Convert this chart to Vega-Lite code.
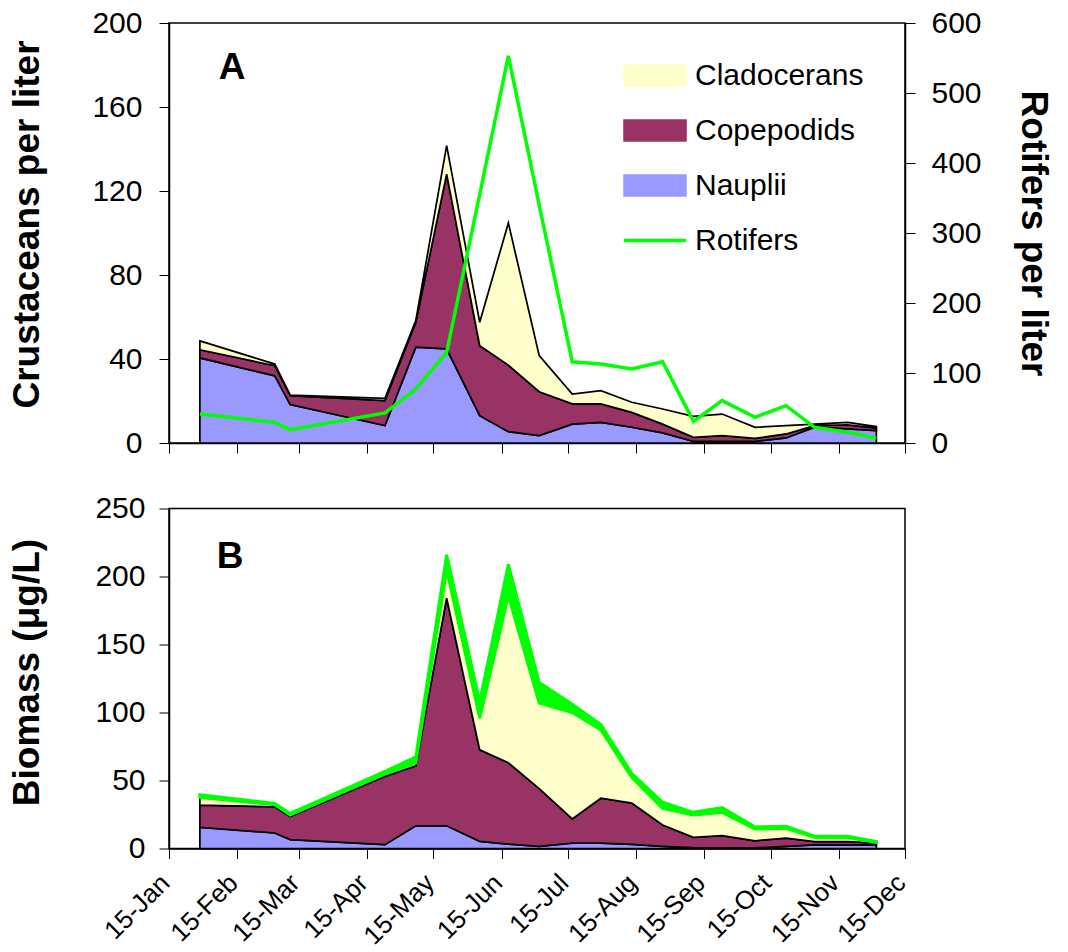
{
  "$schema": "https://vega.github.io/schema/vega-lite/v6.json",
  "background": "white",
  "padding": {"left": 7, "top": 7, "right": 5, "bottom": 2},
  "bounds": "flush",
  "spacing": 65.5,
  "config": {
    "font": "Liberation Sans",
    "view": {"stroke": "black", "strokeWidth": 1.5},
    "axis": {"grid": false, "domainColor": "black", "domainWidth": 1.5, "tickColor": "black", "tickWidth": 1, "tickSize": 10, "labelColor": "black", "titleColor": "black", "labelFont": "Liberation Sans", "titleFont": "Liberation Sans"}
  },
  "datasets": {
    "plankton": [
      {"date": "2003-01-29T00:00", "group": "Nauplii", "density": 40.5, "biomass": 15.6},
      {"date": "2003-03-04T00:00", "group": "Nauplii", "density": 32, "biomass": 11.4},
      {"date": "2003-03-11T00:00", "group": "Nauplii", "density": 18.3, "biomass": 6.5},
      {"date": "2003-04-23T00:00", "group": "Nauplii", "density": 8.3, "biomass": 2.8},
      {"date": "2003-05-07T00:00", "group": "Nauplii", "density": 45.6, "biomass": 16.7},
      {"date": "2003-05-21T00:00", "group": "Nauplii", "density": 44.8, "biomass": 16.7},
      {"date": "2003-06-05T00:00", "group": "Nauplii", "density": 13, "biomass": 5.3},
      {"date": "2003-06-18T00:00", "group": "Nauplii", "density": 5.4, "biomass": 3.3},
      {"date": "2003-07-02T00:00", "group": "Nauplii", "density": 3.5, "biomass": 1.6},
      {"date": "2003-07-17T00:00", "group": "Nauplii", "density": 9, "biomass": 4},
      {"date": "2003-07-30T00:00", "group": "Nauplii", "density": 9.8, "biomass": 4},
      {"date": "2003-08-13T00:00", "group": "Nauplii", "density": 7.5, "biomass": 3},
      {"date": "2003-08-27T00:00", "group": "Nauplii", "density": 4.8, "biomass": 1.6},
      {"date": "2003-09-10T00:00", "group": "Nauplii", "density": 0.8, "biomass": 0.6},
      {"date": "2003-09-23T00:00", "group": "Nauplii", "density": 0.8, "biomass": 0.5},
      {"date": "2003-10-08T00:00", "group": "Nauplii", "density": 0.8, "biomass": 0.5},
      {"date": "2003-10-22T00:00", "group": "Nauplii", "density": 2.4, "biomass": 1.5},
      {"date": "2003-11-04T00:00", "group": "Nauplii", "density": 7.5, "biomass": 2.7},
      {"date": "2003-11-19T00:00", "group": "Nauplii", "density": 6.7, "biomass": 2.7},
      {"date": "2003-12-02T00:00", "group": "Nauplii", "density": 5.9, "biomass": 2.7},
      {"date": "2003-01-29T00:00", "group": "Copepodids", "density": 3.9, "biomass": 16.3},
      {"date": "2003-03-04T00:00", "group": "Copepodids", "density": 4.8, "biomass": 19.3},
      {"date": "2003-03-11T00:00", "group": "Copepodids", "density": 4.2, "biomass": 17.1},
      {"date": "2003-04-23T00:00", "group": "Copepodids", "density": 11.9, "biomass": 50.2},
      {"date": "2003-05-07T00:00", "group": "Copepodids", "density": 11.9, "biomass": 44.1},
      {"date": "2003-05-21T00:00", "group": "Copepodids", "density": 83.2, "biomass": 167.3},
      {"date": "2003-06-05T00:00", "group": "Copepodids", "density": 33.3, "biomass": 67.2},
      {"date": "2003-06-18T00:00", "group": "Copepodids", "density": 31.7, "biomass": 59.7},
      {"date": "2003-07-02T00:00", "group": "Copepodids", "density": 20.9, "biomass": 42.4},
      {"date": "2003-07-17T00:00", "group": "Copepodids", "density": 9.6, "biomass": 17.7},
      {"date": "2003-07-30T00:00", "group": "Copepodids", "density": 8.8, "biomass": 33},
      {"date": "2003-08-13T00:00", "group": "Copepodids", "density": 7.1, "biomass": 30.4},
      {"date": "2003-08-27T00:00", "group": "Copepodids", "density": 4.2, "biomass": 15.7},
      {"date": "2003-09-10T00:00", "group": "Copepodids", "density": 1.9, "biomass": 7.6},
      {"date": "2003-09-23T00:00", "group": "Copepodids", "density": 2.7, "biomass": 8.9},
      {"date": "2003-10-08T00:00", "group": "Copepodids", "density": 1.4, "biomass": 5.2},
      {"date": "2003-10-22T00:00", "group": "Copepodids", "density": 1.9, "biomass": 6.2},
      {"date": "2003-11-04T00:00", "group": "Copepodids", "density": 0.8, "biomass": 2.3},
      {"date": "2003-11-19T00:00", "group": "Copepodids", "density": 1.9, "biomass": 2.3},
      {"date": "2003-12-02T00:00", "group": "Copepodids", "density": 1.2, "biomass": 1.3},
      {"date": "2003-01-29T00:00", "group": "Cladocerans", "density": 4.2, "biomass": 5.7},
      {"date": "2003-03-04T00:00", "group": "Cladocerans", "density": 0.8, "biomass": 1.5},
      {"date": "2003-03-11T00:00", "group": "Cladocerans", "density": 0.3, "biomass": 1.0},
      {"date": "2003-04-23T00:00", "group": "Cladocerans", "density": 1.1, "biomass": 1.7},
      {"date": "2003-05-07T00:00", "group": "Cladocerans", "density": 0.8, "biomass": 2.0},
      {"date": "2003-05-21T00:00", "group": "Cladocerans", "density": 13.6, "biomass": 21},
      {"date": "2003-06-05T00:00", "group": "Cladocerans", "density": 11.2, "biomass": 23.5},
      {"date": "2003-06-18T00:00", "group": "Cladocerans", "density": 67.7, "biomass": 123},
      {"date": "2003-07-02T00:00", "group": "Cladocerans", "density": 17.2, "biomass": 63},
      {"date": "2003-07-17T00:00", "group": "Cladocerans", "density": 4.7, "biomass": 78.3},
      {"date": "2003-07-30T00:00", "group": "Cladocerans", "density": 6.3, "biomass": 50.2},
      {"date": "2003-08-13T00:00", "group": "Cladocerans", "density": 4.8, "biomass": 18.9},
      {"date": "2003-08-27T00:00", "group": "Cladocerans", "density": 7.2, "biomass": 12.2},
      {"date": "2003-09-10T00:00", "group": "Cladocerans", "density": 10, "biomass": 16.4},
      {"date": "2003-09-23T00:00", "group": "Cladocerans", "density": 10.3, "biomass": 17.2},
      {"date": "2003-10-08T00:00", "group": "Cladocerans", "density": 5.3, "biomass": 8.6},
      {"date": "2003-10-22T00:00", "group": "Cladocerans", "density": 4, "biomass": 7.1},
      {"date": "2003-11-04T00:00", "group": "Cladocerans", "density": 0.7, "biomass": 3.2},
      {"date": "2003-11-19T00:00", "group": "Cladocerans", "density": 1.2, "biomass": 3},
      {"date": "2003-12-02T00:00", "group": "Cladocerans", "density": 0.7, "biomass": 0.5},
      {"date": "2003-01-29T00:00", "group": "Rotifers", "density": 41.4, "biomass": 2},
      {"date": "2003-03-04T00:00", "group": "Rotifers", "density": 29.5, "biomass": 1},
      {"date": "2003-03-11T00:00", "group": "Rotifers", "density": 19, "biomass": 1.2},
      {"date": "2003-04-23T00:00", "group": "Rotifers", "density": 42.9, "biomass": 2},
      {"date": "2003-05-07T00:00", "group": "Rotifers", "density": 77, "biomass": 4.5},
      {"date": "2003-05-21T00:00", "group": "Rotifers", "density": 129.5, "biomass": 11},
      {"date": "2003-06-05T00:00", "group": "Rotifers", "density": 355, "biomass": 12},
      {"date": "2003-06-18T00:00", "group": "Rotifers", "density": 553, "biomass": 23},
      {"date": "2003-07-02T00:00", "group": "Rotifers", "density": 340, "biomass": 15},
      {"date": "2003-07-17T00:00", "group": "Rotifers", "density": 116, "biomass": 6},
      {"date": "2003-07-30T00:00", "group": "Rotifers", "density": 112.9, "biomass": 4},
      {"date": "2003-08-13T00:00", "group": "Rotifers", "density": 105.7, "biomass": 3},
      {"date": "2003-08-27T00:00", "group": "Rotifers", "density": 116, "biomass": 4.5},
      {"date": "2003-09-10T00:00", "group": "Rotifers", "density": 31, "biomass": 2},
      {"date": "2003-09-23T00:00", "group": "Rotifers", "density": 60.5, "biomass": 3.5},
      {"date": "2003-10-08T00:00", "group": "Rotifers", "density": 36.7, "biomass": 1.5},
      {"date": "2003-10-22T00:00", "group": "Rotifers", "density": 53.3, "biomass": 1.5},
      {"date": "2003-11-04T00:00", "group": "Rotifers", "density": 22.4, "biomass": 0.8},
      {"date": "2003-11-19T00:00", "group": "Rotifers", "density": 15.3, "biomass": 1},
      {"date": "2003-12-02T00:00", "group": "Rotifers", "density": 6.7, "biomass": 0.6}
    ]
  },
  "resolve": {"scale": {"color": "independent"}, "legend": {"color": "independent"}},
  "vconcat": [
    {
      "width": 736,
      "height": 420,
      "layer": [
        {
          "layer": [
            {
              "data": {"name": "plankton"},
              "transform": [
                {"filter": "datum.group !== 'Rotifers'"},
                {"calculate": "indexof(['Nauplii','Copepodids','Cladocerans','Rotifers'], datum.group)", "as": "rank"}
              ],
              "mark": {"type": "area", "stroke": "black", "strokeWidth": 1.75, "opacity": 1, "fillOpacity": 1},
              "encoding": {
                "x": {
                  "field": "date", "type": "temporal",
                  "scale": {"domain": [{"year": 2003, "month": 1, "date": 15}, {"year": 2003, "month": 12, "date": 15}]},
                  "axis": {
                    "values": [
                      {"year": 2003, "month": 1, "date": 15}, {"year": 2003, "month": 2, "date": 15},
                      {"year": 2003, "month": 3, "date": 15}, {"year": 2003, "month": 4, "date": 15},
                      {"year": 2003, "month": 5, "date": 15}, {"year": 2003, "month": 6, "date": 15},
                      {"year": 2003, "month": 7, "date": 15}, {"year": 2003, "month": 8, "date": 15},
                      {"year": 2003, "month": 9, "date": 15}, {"year": 2003, "month": 10, "date": 15},
                      {"year": 2003, "month": 11, "date": 15}, {"year": 2003, "month": 12, "date": 15}
                    ],
                    "labels": false, "title": null
                  }
                },
                "y": {
                  "field": "density", "type": "quantitative", "stack": "zero",
                  "scale": {"domain": [0, 200], "nice": false},
                  "axis": {
                    "values": [0, 40, 80, 120, 160, 200],
                    "labelFontSize": 30, "labelPadding": 17,
                    "title": "Crustaceans per liter", "titleFontSize": 37, "titleFontWeight": "bold",
                    "titleAngle": 270, "titleBaseline": "bottom", "titleAlign": "center",
                    "titleX": -122.5, "titleY": 201
                  }
                },
                "color": {
                  "field": "group", "type": "nominal",
                  "scale": {"domain": ["Cladocerans", "Copepodids", "Nauplii", "Rotifers"], "range": ["#FFFFCC", "#993366", "#9999FF", "#00FF00"]},
                  "legend": {
                    "orient": "none", "legendX": 471, "legendY": 37.5, "title": null, "padding": 0,
                    "symbolSize": 900, "symbolType": "M-2.067,-0.7H2.067V0.7H-2.067Z",
                    "symbolStrokeColor": "black", "symbolStrokeWidth": 1.5, "symbolOpacity": 1,
                    "labelFontSize": 30, "labelFont": "Liberation Sans", "labelColor": "black",
                    "labelOffset": 25, "rowPadding": 25, "labelLimit": 400,
                    "encode": {
                      "symbols": {
                        "update": {
                          "shape": {"signal": "datum.value === 'Rotifers' ? 'M-2.067,0H2.067' : 'M-2.067,-0.7H2.067V0.7H-2.067Z'"},
                          "fill": {"signal": "datum.value === 'Cladocerans' ? '#FFFFCC' : datum.value === 'Copepodids' ? '#993366' : datum.value === 'Nauplii' ? '#9999FF' : 'transparent'"},
                          "stroke": {"signal": "datum.value === 'Rotifers' ? '#00FF00' : 'black'"},
                          "strokeWidth": {"signal": "datum.value === 'Rotifers' ? 3.5 : 1.5"},
                          "opacity": {"value": 1},
                          "fillOpacity": {"value": 1}
                        }
                      }
                    }
                  }
                },
                "order": {"field": "rank", "type": "quantitative"}
              }
            },
            {
              "data": {"values": [{"panel": "A"}]},
              "mark": {"type": "text", "fontSize": 37, "fontWeight": "bold", "align": "center", "baseline": "middle", "color": "black", "font": "Liberation Sans"},
              "encoding": {
                "text": {"field": "panel"},
                "x": {"datum": {"year": 2003, "month": 2, "date": 12, "hours": 14}, "type": "temporal"},
                "y": {"datum": 178.8, "type": "quantitative"}
              }
            }
          ]
        },
        {
          "data": {"name": "plankton"},
          "transform": [{"filter": "datum.group === 'Rotifers'"}],
          "mark": {"type": "line", "strokeWidth": 3.5, "strokeJoin": "miter"},
          "encoding": {
            "x": {"field": "date", "type": "temporal"},
            "y": {
              "field": "density", "type": "quantitative",
              "scale": {"domain": [0, 600], "nice": false},
              "axis": {
                "orient": "right",
                "values": [0, 100, 200, 300, 400, 500, 600],
                "labelFontSize": 30, "labelPadding": 16,
                "title": "Rotifers per liter", "titleFontSize": 37, "titleFontWeight": "bold",
                "titleAngle": 90, "titleBaseline": "bottom", "titleAlign": "center",
                "titleX": 108.7, "titleY": 210
              }
            },
            "color": {
              "field": "group", "type": "nominal",
              "legend": {
                "orient": "none", "legendX": 471, "legendY": 37.5, "title": null, "padding": 0,
                "symbolSize": 900, "symbolType": "M-2.067,-0.7H2.067V0.7H-2.067Z",
                "symbolStrokeColor": "black", "symbolStrokeWidth": 1.5, "symbolOpacity": 1,
                "labelFontSize": 30, "labelFont": "Liberation Sans", "labelColor": "black",
                "labelOffset": 25, "rowPadding": 25, "labelLimit": 400,
                "encode": {
                  "symbols": {
                    "update": {
                      "shape": {"signal": "datum.value === 'Rotifers' ? 'M-2.067,0H2.067' : 'M-2.067,-0.7H2.067V0.7H-2.067Z'"},
                      "fill": {"signal": "datum.value === 'Cladocerans' ? '#FFFFCC' : datum.value === 'Copepodids' ? '#993366' : datum.value === 'Nauplii' ? '#9999FF' : 'transparent'"},
                      "stroke": {"signal": "datum.value === 'Rotifers' ? '#00FF00' : 'black'"},
                      "strokeWidth": {"signal": "datum.value === 'Rotifers' ? 3.5 : 1.5"},
                      "opacity": {"value": 1},
                      "fillOpacity": {"value": 1}
                    }
                  }
                }
              }
            }
          }
        }
      ],
      "resolve": {"scale": {"y": "independent"}}
    },
    {
      "width": 736,
      "height": 340,
      "layer": [
        {
          "data": {"name": "plankton"},
          "transform": [
            {"calculate": "indexof(['Nauplii','Copepodids','Cladocerans','Rotifers'], datum.group)", "as": "rank"}
          ],
          "mark": {"type": "area", "opacity": 1, "fillOpacity": 1},
          "encoding": {
            "x": {
              "field": "date", "type": "temporal",
              "scale": {"domain": [{"year": 2003, "month": 1, "date": 15}, {"year": 2003, "month": 12, "date": 15}]},
              "axis": {
                "values": [
                  {"year": 2003, "month": 1, "date": 15}, {"year": 2003, "month": 2, "date": 15},
                  {"year": 2003, "month": 3, "date": 15}, {"year": 2003, "month": 4, "date": 15},
                  {"year": 2003, "month": 5, "date": 15}, {"year": 2003, "month": 6, "date": 15},
                  {"year": 2003, "month": 7, "date": 15}, {"year": 2003, "month": 8, "date": 15},
                  {"year": 2003, "month": 9, "date": 15}, {"year": 2003, "month": 10, "date": 15},
                  {"year": 2003, "month": 11, "date": 15}, {"year": 2003, "month": 12, "date": 15}
                ],
                "format": "%d-%b", "labelAngle": -45, "labelAlign": "right", "labelBaseline": "middle",
                "labelFontSize": 26, "labelPadding": 20, "labelOffset": -4, "labelOverlap": false, "labelFlush": false,
                "labelBound": false, "title": null
              }
            },
            "y": {
              "field": "biomass", "type": "quantitative", "stack": "zero",
              "scale": {"domain": [0, 250], "nice": false},
              "axis": {
                "values": [0, 50, 100, 150, 200, 250],
                "labelFontSize": 30, "labelPadding": 14,
                "title": "Biomass (μg/L)", "titleFontSize": 37, "titleFontWeight": "bold",
                "titleAngle": 270, "titleBaseline": "bottom", "titleAlign": "center",
                "titleX": -123, "titleY": 163.5
              }
            },
            "color": {
              "field": "group", "type": "nominal",
              "scale": {"domain": ["Cladocerans", "Copepodids", "Nauplii", "Rotifers"], "range": ["#FFFFCC", "#993366", "#9999FF", "#00FF00"]},
              "legend": null
            },
            "stroke": {"condition": {"test": "datum.group === 'Rotifers'", "value": "#00FF00"}, "value": "black"},
            "strokeWidth": {"condition": {"test": "datum.group === 'Rotifers'", "value": 3}, "value": 1.75},
            "order": {"field": "rank", "type": "quantitative"}
          }
        },
        {
          "data": {"values": [{"panel": "B"}]},
          "mark": {"type": "text", "fontSize": 37, "fontWeight": "bold", "align": "center", "baseline": "middle", "color": "black", "font": "Liberation Sans"},
          "encoding": {
            "text": {"field": "panel"},
            "x": {"datum": {"year": 2003, "month": 2, "date": 11, "hours": 18}, "type": "temporal"},
            "y": {"datum": 214.2, "type": "quantitative"}
          }
        }
      ]
    }
  ]
}
